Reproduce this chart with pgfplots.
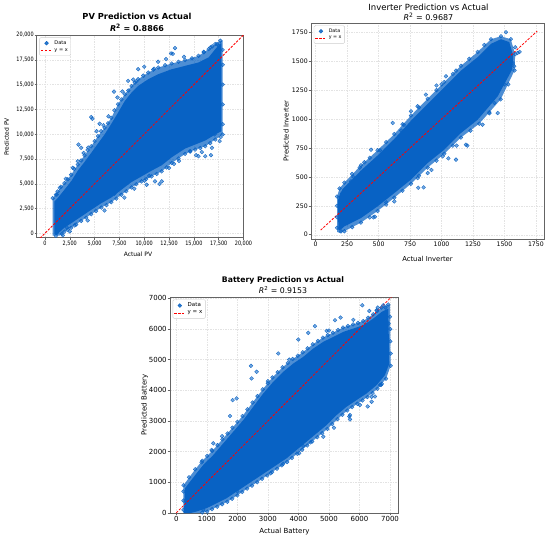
\documentclass[border=0pt]{standalone}
\usepackage{pgfplots}
\pgfplotsset{compat=1.18}
\usepackage{fontspec}
\setmainfont{DejaVu Sans}
\newfontfamily\narrowf[FakeStretch=0.82]{DejaVu Sans}
\definecolor{dblue}{RGB}{8,98,196}
\definecolor{framec}{RGB}{100,100,100}
\pgfplotsset{
  sc/.style={
    scale only axis, anchor=north west,
    axis line style={draw=framec, line width=1pt},
    grid=major, grid style={gray!22, dash pattern=on 1.5pt off 1pt, line width=0.4pt},
    tick align=outside, major tick length=2.3pt, tick style={framec, line width=0.5pt},
    xtick pos=bottom, ytick pos=left,
    scaled ticks=false,
    /pgf/number format/assume math mode=true,
    xticklabel style={inner sep=0.8pt},
    yticklabel style={inner sep=0.8pt},
    legend style={at={(0.012,0.988)}, anchor=north west, draw=gray!40, rounded corners=1pt,
      fill=white, fill opacity=0.85, text opacity=1, inner sep=1pt, row sep=-1.5pt},
    legend cell align=left,
  },
  inner/.style={draw=none, fill=dblue, forget plot},
  outer/.style={draw=none, fill=dblue, fill opacity=0.72, forget plot},
  pts/.style={only marks, mark=*, mark size=1.9pt,
    mark options={draw=dblue, fill=dblue, fill opacity=0.55, draw opacity=0.9, line width=0.4pt},
    legend image code/.code={\fill[dblue] (5.5pt,0pt) circle (1.9pt);}},
  yx/.style={color=red, line width=0.8pt, dash pattern=on 2.4pt off 1.4pt,
    legend image code/.code={\draw[#1] (0pt,0pt) -- (11pt,0pt);}},
}
\begin{document}
\begin{tikzpicture}
\path (0,0) rectangle (550pt,-538pt);
% ---------------- PV ----------------
\begin{axis}[sc, at={(37pt,-35pt)}, width=207pt, height=202.5pt,
  xmin=-800, xmax=20050, ymin=-420, ymax=20000,
  xtick={0,2500,...,20000}, ytick={0,2500,...,20000},
  /pgf/number format/1000 sep={,},
  ticklabel style={font=\narrowf\fontsize{6}{7}\selectfont},
  legend style={font=\fontsize{5}{6}\selectfont}]
\addplot[outer] coordinates {(780,-240) (780,3550) (1280,4220) (1960,5070) (2640,5910) (3310,6930) (3990,7870) (4660,8780) (5340,9800) (6010,10640) (6690,11650) (7360,13010) (8040,14020) (8720,14860) (9390,15540) (10400,16210) (11420,16720) (12770,17130) (14120,17470) (15470,17900) (16490,18580) (17160,19090) (17670,19420) (17900,19420) (17900,9970) (17160,9460) (16150,8780) (15130,8450) (14120,8010) (12770,7090) (11760,6250) (10740,5740) (9730,5240) (8720,4630) (7700,3890) (6690,3140) (5680,2600) (4660,1930) (3650,1250) (2640,570) (1960,170) (1450,-240)};
\addplot[inner] coordinates {(950,-100) (950,3200) (1280,3550) (1960,4390) (2640,5240) (3310,6320) (3990,7200) (4660,8110) (5340,9050) (6010,9970) (6690,11050) (7360,12160) (8040,13340) (8720,14190) (9390,14860) (10400,15540) (11420,16050) (12770,16550) (14120,16890) (15470,17230) (16490,17740) (17160,18580) (17670,19150) (17770,19150) (17770,10300) (17160,9970) (16150,9360) (15130,8950) (14120,8550) (12770,7670) (11760,6860) (10740,6320) (9730,5740) (8720,5170) (7700,4390) (6690,3610) (5680,3040) (4660,2370) (3650,1690) (2640,1010) (1960,570) (1450,100) (1220,-170)};
\addplot[pts, forget plot] coordinates {(780,3550) (1100,3900) (1280,4220) (1620,4700) (1960,5070) (2300,5450) (2640,5910) (2950,6500) (3310,6930) (3650,7350) (3990,7870) (4300,8400) (4660,8780) (5000,9300) (5340,9800) (5650,10300) (6010,10640) (6350,11100) (6690,11650) (7000,12400) (7360,13010) (7700,13500) (8040,14020) (8400,14400) (8720,14860) (9050,15200) (9390,15540) (9900,15900) (10400,16210) (10900,16500) (11420,16720) (12100,16950) (12770,17130) (13450,17300) (14120,17470) (14800,17650) (15470,17900) (16000,18250) (16490,18580) (16850,18850) (17160,19090) (17670,19420) (17900,18500) (17900,17000) (17900,15000) (17900,13000) (17900,11000) (17900,9970) (17160,9460) (16650,9100) (16150,8780) (15650,8600) (15130,8450) (14620,8250) (14120,8010) (13450,7550) (12770,7090) (12250,6650) (11760,6250) (11250,5990) (10740,5740) (10200,5480) (9730,5240) (9200,4950) (8720,4630) (8200,4250) (7700,3890) (7200,3500) (6690,3140) (6200,2850) (5680,2600) (5150,2250) (4660,1930) (4150,1580) (3650,1250) (3150,900) (2640,570) (2300,370) (1960,170) (1700,-50)};
\addplot[pts] coordinates {(13100,18680) (12700,18140) (12880,18100) (12200,17570) (11400,17300) (9390,16550) (10000,16800) (8380,15370) (9200,15330) (6960,14290) (7300,13700) (4660,11720) (4780,11550) (5510,11050) (3380,8950) (3650,8620) (4350,8650) (3310,7260) (2800,6600) (2100,5500) (10240,4900) (10030,5310) (11080,5240) (11540,4980) (11760,5240) (15470,7770) (15220,7880) (16820,8620) (16720,7880) (16150,7770) (14630,8280) (16660,18750) (17330,19090) (17500,18900) (13500,7300) (12500,6600) (9000,4500) (8000,3600) (6000,2300) (4300,1300) (3000,800) (2500,200) (1800,-200) (1100,-250) (1200,3900) (1500,4600) (5900,10900) (6400,11800) (8900,15500) (16000,18300) (17700,9700) (17600,9300) (15800,8200) (17090,9980) (14000,17800) (11000,16600) (7800,14300) (5200,10300) (3900,8100) (10500,5800) (13000,7000) (7000,4000) (2200,600)};
\addlegendentry{Data}
\addplot[yx] coordinates {(-500,-500) (20050,20050)};
\addlegendentry{y = x}
\end{axis}
% ---------------- Inverter ----------------
\begin{axis}[sc, at={(311pt,-23pt)}, width=233pt, height=216pt,
  xmin=-37, xmax=1814, ymin=-37, ymax=1830,
  xtick={0,250,...,1750}, ytick={0,250,...,1750},
  /pgf/number format/1000 sep={},
  ticklabel style={font=\fontsize{6.2}{7}\selectfont},
  legend style={font=\fontsize{4.8}{6}\selectfont}]
\addplot[outer] coordinates {(170,25) (170,330) (190,400) (228,450) (360,600) (492,730) (625,870) (757,1030) (890,1175) (1022,1320) (1154,1460) (1287,1580) (1393,1690) (1472,1715) (1550,1690) (1585,1560) (1580,1420) (1470,1170) (1300,960) (1154,840) (1022,700) (890,580) (757,440) (625,320) (492,205) (360,105) (228,30) (190,15)};
\addplot[inner] coordinates {(180,40) (178,300) (195,360) (228,410) (360,555) (492,685) (625,828) (757,985) (890,1130) (1022,1275) (1154,1418) (1287,1535) (1393,1650) (1472,1690) (1538,1665) (1570,1545) (1562,1430) (1446,1196) (1287,994) (1154,879) (1022,735) (890,620) (757,476) (625,360) (492,245) (360,144) (228,72) (200,45)};
\addplot[pts, forget plot] coordinates {(170,60) (170,150) (170,250) (170,330) (190,400) (228,450) (290,525) (360,600) (430,665) (492,730) (560,800) (625,870) (690,955) (757,1030) (820,1100) (890,1175) (960,1250) (1022,1320) (1090,1390) (1154,1460) (1220,1520) (1287,1580) (1340,1640) (1393,1690) (1472,1715) (1550,1690) (1585,1620) (1585,1560) (1580,1420) (1530,1300) (1470,1170) (1380,1060) (1300,960) (1230,900) (1154,840) (1090,770) (1022,700) (960,640) (890,580) (820,510) (757,440) (690,380) (625,320) (560,260) (492,205) (430,150) (360,105) (290,65) (228,30)};
\addplot[pts] coordinates {(1512,1750) (1604,1571) (1578,1456) (1565,1485) (1620,1580) (1115,1418) (1035,1369) (1300,1470) (960,1290) (876,1211) (810,1110) (757,1067) (680,900) (612,966) (530,700) (440,735) (511,729) (387,626) (300,500) (281,461) (228,389) (1194,778) (1205,770) (1115,649) (1054,660) (1120,770) (1326,951) (1406,1225) (1420,1139) (1446,1052) (858,409) (815,406) (810,490) (890,533) (458,150) (471,156) (625,288) (1009,677) (201,29) (1250,1450) (700,950) (350,580) (1500,1300) (1000,1300) (1380,1050) (920,560) (250,100) (560,280)};
\addlegendentry{Data}
\addplot[yx] coordinates {(40,40) (1760,1760)};
\addlegendentry{y = x}
\end{axis}
% ---------------- Battery ----------------
\begin{axis}[sc, at={(170pt,-297pt)}, width=229pt, height=216pt,
  xmin=-206, xmax=7294, ymin=-5, ymax=7045,
  xtick={0,1000,...,7000}, ytick={0,1000,...,7000},
  /pgf/number format/1000 sep={},
  ticklabel style={font=\fontsize{7}{8}\selectfont},
  legend style={font=\fontsize{5.5}{6.5}\selectfont}]
\addplot[outer] coordinates {(235,-10) (235,900) (620,1420) (850,1700) (1180,2020) (1510,2400) (1840,2780) (2170,3160) (2500,3600) (2830,4030) (3150,4420) (3480,4750) (3810,5020) (4140,5240) (4470,5500) (4800,5720) (5130,5880) (5460,6050) (5790,6150) (6120,6260) (6450,6480) (6720,6700) (6940,6800) (7000,6800) (7020,4800) (6870,4380) (6590,4050) (6260,3780) (5930,3560) (5600,3340) (5280,3060) (4950,2740) (4620,2470) (4290,2200) (3960,1930) (3630,1660) (3300,1440) (2980,1220) (2650,1000) (2320,790) (2000,570) (1670,360) (1340,200) (1010,40) (700,-10)};
\addplot[inner] coordinates {(251,-10) (284,803) (666,1292) (884,1564) (1212,1889) (1539,2269) (1867,2649) (2194,3029) (2522,3464) (2849,3898) (3177,4278) (3504,4604) (3832,4875) (4159,5092) (4487,5364) (4814,5581) (5142,5744) (5469,5907) (5797,6015) (6124,6124) (6452,6341) (6725,6558) (6943,6667) (6976,4875) (6834,4495) (6561,4169) (6234,3898) (5906,3681) (5579,3464) (5251,3192) (4924,2866) (4596,2595) (4269,2324) (3941,2052) (3614,1781) (3286,1564) (2959,1346) (2631,1129) (2303,912) (1976,695) (1648,478) (1321,315) (993,152) (666,43) (448,-10)};
\addplot[pts, forget plot] coordinates {(235,100) (235,400) (235,700) (235,900) (420,1160) (620,1420) (850,1700) (1010,1860) (1180,2020) (1350,2210) (1510,2400) (1680,2590) (1840,2780) (2000,2970) (2170,3160) (2330,3380) (2500,3600) (2660,3810) (2830,4030) (3000,4230) (3150,4420) (3320,4590) (3480,4750) (3650,4890) (3810,5020) (3980,5130) (4140,5240) (4300,5370) (4470,5500) (4640,5610) (4800,5720) (4960,5800) (5130,5880) (5300,5970) (5460,6050) (5620,6100) (5790,6150) (5950,6200) (6120,6260) (6280,6370) (6450,6480) (6580,6590) (6720,6700) (6940,6800) (7000,6400) (7010,6000) (7010,5600) (7020,5200) (7020,4800) (6870,4380) (6730,4210) (6590,4050) (6430,3910) (6260,3780) (6100,3670) (5930,3560) (5760,3450) (5600,3340) (5440,3200) (5280,3060) (5110,2900) (4950,2740) (4780,2600) (4620,2470) (4450,2330) (4290,2200) (4120,2060) (3960,1930) (3790,1790) (3630,1660) (3460,1550) (3300,1440) (3140,1330) (2980,1220) (2810,1110) (2650,1000) (2480,890) (2320,790) (2160,680) (2000,570) (1830,460) (1670,360) (1500,280) (1340,200) (1170,120) (1010,40) (850,10)};
\addplot[pts] coordinates {(6092,6775) (6321,6591) (6561,6612) (6779,6775) (6850,6700) (5197,6287) (5382,6374) (4541,6091) (4924,5939) (3996,5657) (4323,5874) (3341,5201) (2445,4799) (2631,4604) (2467,4387) (1845,3681) (1976,3735) (1758,3160) (1212,2269) (1157,2052) (830,1650) (5688,3192) (5688,3051) (5164,2780) (4814,2486) (4159,2182) (4028,1944) (3090,1292) (2413,1097) (6397,3789) (6397,3627) (6670,4169) (6015,3518) (6889,5418) (6910,5689) (6954,6178) (884,98) (5668,3147) (6268,3473) (6705,4178) (6508,3799) (3000,4300) (3700,5000) (5800,6300) (4400,2300) (3500,1600) (1500,2500) (2000,700) (5000,5950) (6600,6700)};
\addlegendentry{Data}
\addplot[yx] coordinates {(0,0) (7300,7300)};
\addlegendentry{y = x}
\end{axis}
% ---------------- titles and labels ----------------
\node[anchor=base, font=\fontsize{8.3}{9}\selectfont\bfseries] at (137pt,-19pt) {PV Prediction vs Actual};
\node[anchor=base, font=\fontsize{8}{9}\selectfont\bfseries] at (137pt,-31pt) {\textit{R}\textsuperscript{2} = 0.8866};
\node[anchor=base, font=\fontsize{6}{7}\selectfont] at (138pt,-256.5pt) {Actual PV};
\node[anchor=base, rotate=90, font=\fontsize{6}{7}\selectfont] at (9pt,-137pt) {Predicted PV};
\node[anchor=base, font=\fontsize{8.5}{9}\selectfont] at (428.5pt,-10.8pt) {Inverter Prediction vs Actual};
\node[anchor=base, font=\fontsize{8}{9}\selectfont] at (428.5pt,-20.3pt) {\textit{R}\textsuperscript{2} = 0.9687};
\node[anchor=base, font=\fontsize{6.8}{8}\selectfont] at (427.5pt,-261pt) {Actual Inverter};
\node[anchor=base, rotate=90, font=\fontsize{6.8}{8}\selectfont] at (288.5pt,-131pt) {Predicted Inverter};
\node[anchor=base, font=\fontsize{7.7}{9}\selectfont\bfseries] at (283pt,-282pt) {Battery Prediction vs Actual};
\node[anchor=base, font=\fontsize{7.8}{9}\selectfont] at (283pt,-293.8pt) {\textit{R}\textsuperscript{2} = 0.9153};
\node[anchor=base, font=\fontsize{7}{8}\selectfont] at (284.5pt,-533.5pt) {Actual Battery};
\node[anchor=base, rotate=90, font=\fontsize{7}{8}\selectfont] at (146.5pt,-405pt) {Predicted Battery};
\end{tikzpicture}
\end{document}
